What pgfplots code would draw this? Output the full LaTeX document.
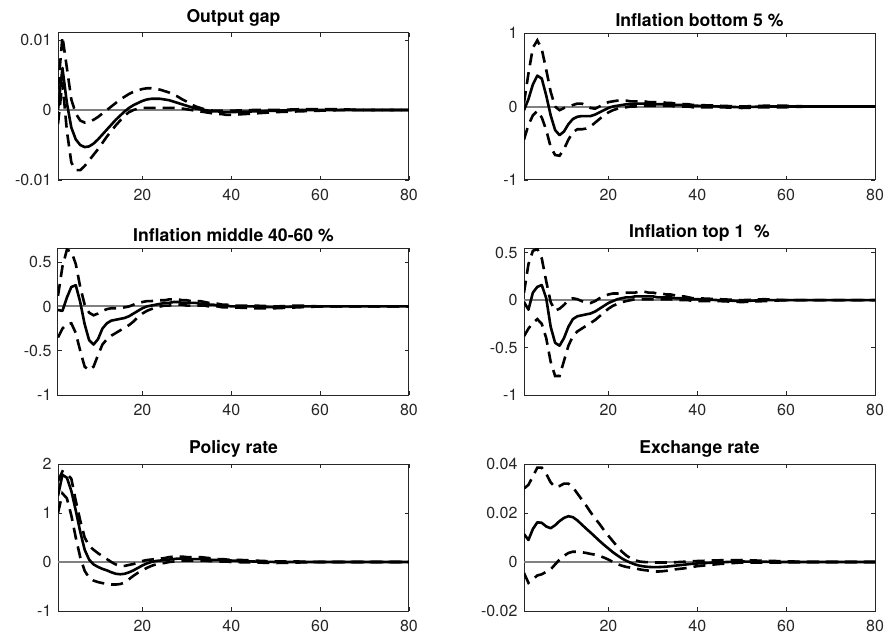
\documentclass[border=0pt]{standalone}
\usepackage{fontspec}
\setmainfont{TeX Gyre Heros}
\usepackage{pgfplots}
\usepackage{pgfplotstable}
\pgfplotsset{compat=1.18}

% Impulse responses: t, median, lower band, upper band
\pgfplotstableread{
t med lo hi
1 0.0000 -0.0020 0.0030
2 0.0060 0.0040 0.0105
3 0.0010 -0.0030 0.0060
4 -0.0025 -0.0075 0.0015
5 -0.0042 -0.0086 -0.0005
6 -0.0050 -0.0086 -0.0015
7 -0.0053 -0.0080 -0.0018
8 -0.0052 -0.0072 -0.0017
9 -0.0048 -0.0064 -0.0014
10 -0.0042 -0.0056 -0.0010
11 -0.0035 -0.0047 -0.0005
12 -0.0028 -0.0038 0.0000
13 -0.0021 -0.0030 0.0005
14 -0.0014 -0.0022 0.0010
15 -0.0008 -0.0015 0.0015
16 -0.0002 -0.0008 0.0019
17 0.0003 -0.0003 0.0023
18 0.0007 0.0000 0.0026
19 0.0010 0.0002 0.0028
20 0.0013 0.0003 0.0030
21 0.0015 0.0003 0.0031
22 0.0016 0.0003 0.0031
23 0.0016 0.0003 0.0030
24 0.0016 0.0003 0.0029
25 0.0015 0.0003 0.0027
26 0.0014 0.0003 0.0025
27 0.0012 0.0003 0.0022
28 0.0010 0.0002 0.0019
29 0.0008 0.0002 0.0015
30 0.0006 0.0001 0.0012
31 0.0004 0.0000 0.0008
32 0.0002 -0.0001 0.0005
33 0.0001 -0.0002 0.0003
34 0.0000 -0.0003 0.0001
35 -0.0001 -0.0004 0.0000
36 -0.0002 -0.0005 -0.0001
37 -0.0002 -0.0006 -0.0001
38 -0.0003 -0.0006 -0.0001
39 -0.0003 -0.0007 -0.0001
40 -0.0003 -0.0007 -0.0001
45 -0.0002 -0.0005 0.0000
50 -0.0001 -0.0003 0.0000
55 0.0000 -0.0002 0.0001
60 0.0000 -0.0001 0.0001
65 0.0000 0.0000 0.0001
70 0.0000 0.0000 0.0000
75 0.0000 0.0000 0.0000
80 0.0000 0.0000 0.0000
}\tblgap

\pgfplotstableread{
t med lo hi
1 -0.05 -0.45 0.05
2 0.10 -0.25 0.45
3 0.30 -0.12 0.80
4 0.42 -0.06 0.90
5 0.38 -0.15 0.78
6 0.15 -0.32 0.50
7 -0.12 -0.55 0.20
8 -0.32 -0.66 0.00
9 -0.39 -0.67 -0.05
10 -0.34 -0.58 -0.02
11 -0.24 -0.45 0.00
12 -0.17 -0.35 0.02
13 -0.14 -0.31 0.04
14 -0.13 -0.31 0.04
15 -0.13 -0.30 0.01
16 -0.13 -0.27 -0.02
17 -0.11 -0.22 -0.03
18 -0.08 -0.17 0.00
19 -0.05 -0.12 0.03
20 -0.02 -0.08 0.06
21 0.00 -0.05 0.07
22 0.01 -0.03 0.08
23 0.02 -0.02 0.08
24 0.03 -0.01 0.08
25 0.03 0.00 0.07
26 0.04 0.00 0.07
27 0.04 0.01 0.07
28 0.04 0.01 0.07
29 0.04 0.01 0.06
30 0.03 0.01 0.06
31 0.03 0.01 0.06
32 0.03 0.01 0.06
33 0.03 0.01 0.05
34 0.03 0.01 0.05
35 0.02 0.00 0.04
36 0.02 0.00 0.04
37 0.02 0.00 0.03
38 0.01 0.00 0.03
39 0.01 -0.01 0.02
40 0.01 -0.01 0.02
45 0.00 -0.01 0.01
50 -0.01 -0.02 0.00
55 0.00 -0.01 0.01
60 0.00 -0.01 0.01
65 0.00 0.00 0.00
70 0.00 0.00 0.00
75 0.00 0.00 0.00
80 0.00 0.00 0.00
}\tblbottom

\pgfplotstableread{
t med lo hi
1 -0.04 -0.35 0.12
2 -0.05 -0.25 0.45
3 0.10 -0.20 0.64
4 0.22 -0.19 0.62
5 0.24 -0.30 0.48
6 0.05 -0.50 0.22
7 -0.20 -0.68 0.02
8 -0.38 -0.72 -0.07
9 -0.43 -0.68 -0.10
10 -0.37 -0.55 -0.08
11 -0.25 -0.43 -0.05
12 -0.19 -0.37 -0.03
13 -0.16 -0.33 -0.02
14 -0.15 -0.30 -0.02
15 -0.14 -0.27 -0.02
16 -0.13 -0.24 -0.01
17 -0.11 -0.21 0.00
18 -0.08 -0.17 0.02
19 -0.05 -0.12 0.04
20 -0.02 -0.08 0.05
21 0.00 -0.05 0.06
22 0.01 -0.03 0.06
23 0.02 -0.01 0.07
24 0.03 0.00 0.07
25 0.04 0.01 0.07
26 0.04 0.01 0.08
27 0.05 0.02 0.08
28 0.05 0.02 0.08
29 0.04 0.02 0.07
30 0.04 0.01 0.07
31 0.04 0.01 0.06
32 0.04 0.01 0.06
33 0.03 0.01 0.06
34 0.03 0.01 0.05
35 0.02 0.00 0.04
36 0.02 0.00 0.04
37 0.01 0.00 0.03
38 0.01 -0.01 0.02
39 0.01 -0.01 0.02
40 0.00 -0.01 0.01
45 0.00 -0.02 0.01
50 -0.01 -0.02 0.00
55 0.00 -0.01 0.01
60 0.00 0.00 0.00
65 0.00 0.00 0.00
70 0.00 0.00 0.00
75 0.00 0.00 0.00
80 0.00 0.00 0.00
}\tblmiddle

\pgfplotstableread{
t med lo hi
1 -0.02 -0.38 0.08
2 -0.10 -0.30 0.38
3 0.08 -0.24 0.52
4 0.14 -0.20 0.54
5 0.16 -0.25 0.44
6 0.02 -0.40 0.20
7 -0.28 -0.65 -0.02
8 -0.45 -0.80 -0.11
9 -0.48 -0.80 -0.09
10 -0.40 -0.64 -0.05
11 -0.28 -0.48 0.00
12 -0.20 -0.38 0.02
13 -0.17 -0.33 0.01
14 -0.16 -0.30 -0.01
15 -0.15 -0.27 -0.03
16 -0.14 -0.24 -0.03
17 -0.12 -0.21 -0.01
18 -0.09 -0.17 0.02
19 -0.06 -0.13 0.04
20 -0.03 -0.09 0.06
21 -0.01 -0.06 0.07
22 0.01 -0.04 0.07
23 0.02 -0.02 0.08
24 0.03 -0.01 0.08
25 0.03 0.00 0.08
26 0.04 0.01 0.08
27 0.04 0.01 0.09
28 0.04 0.01 0.09
29 0.04 0.01 0.08
30 0.04 0.01 0.08
31 0.03 0.01 0.07
32 0.03 0.01 0.07
33 0.03 0.01 0.06
34 0.03 0.01 0.06
35 0.02 0.00 0.05
36 0.02 0.00 0.04
37 0.02 0.00 0.04
38 0.01 0.00 0.03
39 0.01 -0.01 0.02
40 0.01 -0.01 0.02
45 0.00 -0.01 0.01
50 -0.01 -0.02 0.00
55 0.00 -0.01 0.01
60 0.00 0.00 0.00
65 0.00 0.00 0.00
70 0.00 0.00 0.00
75 0.00 0.00 0.00
80 0.00 0.00 0.00
}\tbltop

\pgfplotstableread{
t med lo hi
1 1.35 1.00 1.65
2 1.78 1.40 1.85
3 1.72 1.30 1.80
4 1.45 0.95 1.70
5 1.05 0.50 1.25
6 0.62 0.10 0.85
7 0.25 -0.18 0.50
8 0.05 -0.32 0.33
9 -0.05 -0.38 0.25
10 -0.10 -0.41 0.18
11 -0.14 -0.43 0.12
12 -0.17 -0.45 0.06
13 -0.21 -0.46 0.00
14 -0.24 -0.46 -0.05
15 -0.25 -0.45 -0.08
16 -0.24 -0.42 -0.08
17 -0.21 -0.35 -0.06
18 -0.17 -0.28 -0.04
19 -0.12 -0.22 -0.01
20 -0.07 -0.17 0.02
21 -0.03 -0.12 0.04
22 0.00 -0.08 0.05
23 0.02 -0.05 0.06
24 0.03 -0.03 0.07
25 0.04 -0.02 0.08
26 0.05 0.00 0.10
27 0.06 0.01 0.11
28 0.07 0.02 0.11
29 0.07 0.03 0.11
30 0.06 0.03 0.10
31 0.06 0.03 0.10
32 0.06 0.03 0.10
33 0.06 0.03 0.10
34 0.06 0.03 0.09
35 0.05 0.02 0.08
36 0.04 0.02 0.07
37 0.04 0.01 0.06
38 0.03 0.01 0.06
39 0.03 0.01 0.05
40 0.03 0.00 0.05
45 0.01 -0.01 0.03
50 0.00 -0.02 0.01
55 0.00 -0.01 0.01
60 0.00 0.00 0.00
65 0.00 0.00 0.00
70 0.00 0.00 0.00
75 0.00 0.00 0.00
80 0.00 0.00 0.00
}\tblpolicy

\pgfplotstableread{
t med lo hi
1 0.0114 -0.0045 0.0300
2 0.0090 -0.0085 0.0315
3 0.0135 -0.0070 0.0350
4 0.0162 -0.0055 0.0385
5 0.0160 -0.0050 0.0385
6 0.0145 -0.0040 0.0360
7 0.0138 -0.0030 0.0325
8 0.0150 -0.0010 0.0305
9 0.0167 0.0010 0.0310
10 0.0180 0.0025 0.0320
11 0.0187 0.0037 0.0320
12 0.0183 0.0042 0.0305
13 0.0170 0.0042 0.0280
14 0.0153 0.0040 0.0255
15 0.0136 0.0037 0.0230
16 0.0120 0.0033 0.0203
17 0.0103 0.0030 0.0178
18 0.0086 0.0025 0.0155
19 0.0070 0.0018 0.0130
20 0.0055 0.0010 0.0107
21 0.0040 0.0000 0.0085
22 0.0027 -0.0008 0.0063
23 0.0015 -0.0015 0.0043
24 0.0005 -0.0020 0.0027
25 -0.0003 -0.0023 0.0015
26 -0.0010 -0.0026 0.0007
27 -0.0015 -0.0030 0.0002
28 -0.0018 -0.0033 0.0000
29 -0.0020 -0.0035 -0.0001
30 -0.0021 -0.0038 -0.0002
31 -0.0021 -0.0039 -0.0002
32 -0.0020 -0.0038 -0.0002
33 -0.0019 -0.0036 -0.0002
34 -0.0017 -0.0033 -0.0002
35 -0.0015 -0.0030 -0.0001
36 -0.0013 -0.0028 0.0000
37 -0.0011 -0.0026 0.0001
38 -0.0009 -0.0023 0.0002
39 -0.0007 -0.0020 0.0003
40 -0.0006 -0.0017 0.0004
45 -0.0001 -0.0008 0.0007
50 0.0002 -0.0002 0.0008
55 0.0001 -0.0002 0.0005
60 0.0000 -0.0002 0.0003
65 0.0000 0.0000 0.0000
70 0.0000 0.0000 0.0000
75 0.0000 0.0000 0.0000
80 0.0000 0.0000 0.0000
}\tblfx

\definecolor{axisgray}{RGB}{38,38,38}
\definecolor{zerogray}{RGB}{128,128,128}

\pgfplotsset{
  irf/.style={
    scale only axis, width=351pt, height=147pt,
    xmin=1, xmax=80, xtick={20,40,60,80},
    scaled y ticks=false, scaled x ticks=false,
    tick align=inside, tick pos=both, major tick length=4pt,
    axis line style={line width=1pt, axisgray},
    every tick/.style={axisgray, line width=0.8pt},
    /pgf/number format/assume math mode=true,
    tick label style={font=\fontsize{16}{18}\selectfont, text=axisgray},
    xticklabel style={yshift=-6pt},
    yticklabel style={xshift=-3pt},
    title style={font=\fontsize{17.6}{20}\selectfont\bfseries, text=black, yshift=-3pt},
    clip=true,
  },
  med/.style={black, line width=2.6pt, line join=round},
  band/.style={black, line width=2.6pt, dash pattern=on 12pt off 7pt},
  zero/.style={zerogray, line width=2pt},
}

\newcommand{\irfcurves}[1]{%
  \addplot[zero] coordinates {(1,0) (80,0)};
  \addplot[band] table[x=t, y=lo] {#1};
  \addplot[band] table[x=t, y=hi] {#1};
  \addplot[med] table[x=t, y=med] {#1};
}

\begin{document}
\begin{tikzpicture}[x=1pt, y=1pt]
\useasboundingbox (0,0) rectangle (888,641);

% Row 1
\begin{axis}[irf, at={(58pt,461pt)}, anchor=south west, title={Output gap},
  ymin=-0.01, ymax=0.011, ytick={-0.01,0,0.01}, yticklabels={-0.01,0,0.01}]
  \irfcurves{\tblgap}
\end{axis}
\begin{axis}[irf, at={(524pt,461pt)}, anchor=south west, title={Inflation bottom 5 \%},
  ymin=-1, ymax=1, ytick={-1,0,1}, yticklabels={-1,0,1}]
  \irfcurves{\tblbottom}
\end{axis}

% Row 2
\begin{axis}[irf, at={(58pt,246pt)}, anchor=south west, title={Inflation middle 40-60 \%},
  ymin=-1, ymax=0.66, ytick={-1,-0.5,0,0.5}, yticklabels={-1,-0.5,0,0.5}]
  \irfcurves{\tblmiddle}
\end{axis}
\begin{axis}[irf, at={(524pt,246pt)}, anchor=south west, title={Inflation top 1~~\%},
  ymin=-1, ymax=0.55, ytick={-1,-0.5,0,0.5}, yticklabels={-1,-0.5,0,0.5}]
  \irfcurves{\tbltop}
\end{axis}

% Row 3
\begin{axis}[irf, at={(58pt,30pt)}, anchor=south west, title={Policy rate},
  ymin=-1, ymax=2, ytick={-1,0,1,2}, yticklabels={-1,0,1,2}]
  \irfcurves{\tblpolicy}
\end{axis}
\begin{axis}[irf, at={(524pt,30pt)}, anchor=south west, title={Exchange rate},
  ymin=-0.02, ymax=0.04, ytick={-0.02,0,0.02,0.04}, yticklabels={-0.02,0,0.02,0.04}]
  \irfcurves{\tblfx}
\end{axis}
\end{tikzpicture}
\end{document}
